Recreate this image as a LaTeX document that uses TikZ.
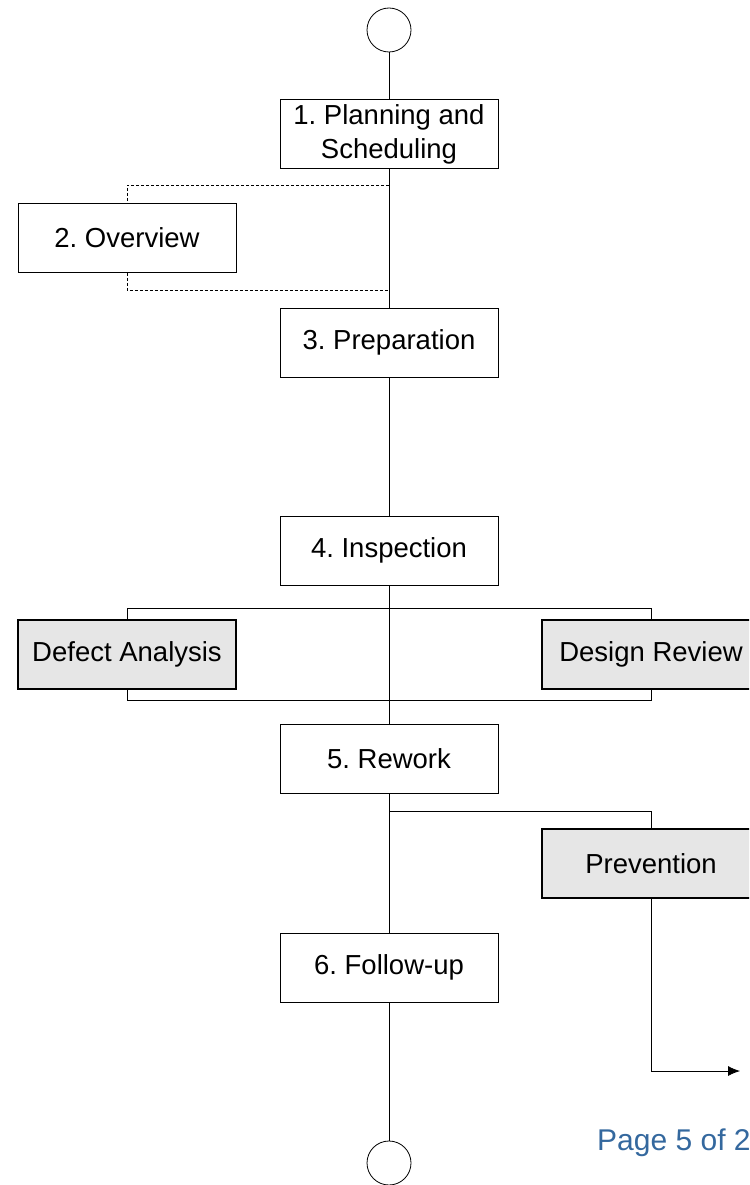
\documentclass[tikz,border=0pt]{standalone}
\usepackage{fontspec}
\setmainfont{Liberation Sans}
\frenchspacing
\usetikzlibrary{arrows.meta}
\definecolor{boxgray}{RGB}{230,230,230}
\definecolor{pageblue}{RGB}{52,104,158}
\tikzset{
  stepbox/.style={draw, line width=0.8pt, minimum width=218pt, minimum height=69pt,
    inner sep=0pt, align=center, font=\fontsize{27.5}{34}\selectfont},
  sidebox/.style={stepbox, fill=boxgray, line width=1.5pt},
  endcircle/.style={draw, circle, line width=0.8pt, minimum size=44pt, inner sep=0pt},
  link/.style={line width=0.8pt}
}
\begin{document}
\begin{tikzpicture}[x=1pt,y=-1pt]
			\useasboundingbox (0,0) rectangle (749,1185);
			\clip (0,0) rectangle (749,1185);
			%% main line
			\node[endcircle] (start) at (389,30) {};
			\node[stepbox] (plan) at (389,134) {1. Planning and\\Scheduling};
			\node[stepbox] (over) at (127,238) {2. Overview};
			\node[stepbox] (prep) at (389,342.5) {3. Preparation};
			\node[stepbox] (insp) at (389,550.5) {4. Inspection};
			\node[stepbox] (rework) at (389,758.5) {5. Rework};
			\node[stepbox] (follow) at (389,967.5) {6. Follow-up};
			\node[endcircle] (stop) at (389,1163) {};
			%% side boxes
			\node[sidebox] (defect) at (127,654.5) {Defect Analysis};
			\node[sidebox] (design) at (651,654.5) {Design Review};
			\node[sidebox] (prev) at (651,863.5) {Prevention};
			%% branch points
			\coordinate (ovin) at (389,185);
			\coordinate (ovout) at (389,290);
			\coordinate (anin) at (389,608);
			\coordinate (anout) at (389,700);
			\coordinate (pvin) at (389,811);
			\coordinate (pvend) at (740,1071);

			\draw[link] (start) -- (plan);
			\draw[link] (plan) -- (prep);
			\draw[link] (prep) -- (insp);
			\draw[link] (insp) -- (rework);
			\draw[link] (rework) -- (follow);
			\draw[link] (follow) -- (stop);

			\draw[link, densely dashed] (ovin) -| (over.north);
			\draw[link, densely dashed] (over.south) |- (ovout);

			\draw[link] (anin) -| (defect.north);
			\draw[link] (anin) -| (design.north);
			\draw[link] (defect.south) |- (anout);
			\draw[link] (design.south) |- (anout);

			\draw[link] (pvin) -| (prev.north);
			\draw[link, -{Latex[length=12pt,width=10pt]}] (prev.south) |- (pvend);

			\node[anchor=base west, text=pageblue, inner sep=0pt,
			  font=\fontsize{30}{36}\selectfont] (page) at (597,1150) {Page 5 of 2};
\end{tikzpicture}
\end{document}
